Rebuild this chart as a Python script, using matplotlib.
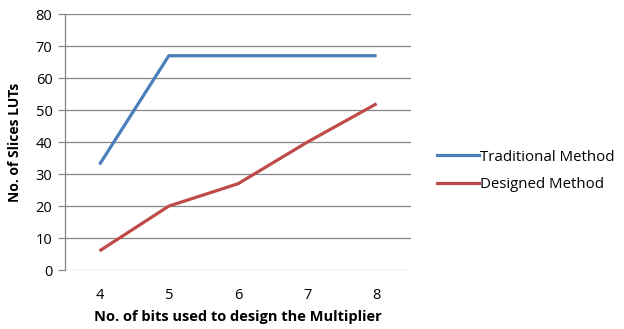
import matplotlib.pyplot as plt
from matplotlib.lines import Line2D

bits = [4, 5, 6, 7, 8]
traditional = [33, 67, 67, 67, 67]
designed = [6, 20, 27, 40, 52]
y_ticks = [0, 10, 20, 30, 40, 50, 60, 70, 80]

plt.rcParams['font.family'] = ['Open Sans', 'DejaVu Sans']

fig = plt.figure(figsize=(6.24, 3.29), dpi=100)
ax = fig.add_axes([0.104, 0.179, 0.555, 0.778])

blue = '#4a7ebb'
red = '#be4b48'
ax.plot(bits, traditional, color=blue, lw=2.3, solid_capstyle='butt')
ax.plot(bits, designed, color=red, lw=2.3, solid_capstyle='butt')

ax.set_xlim(3.5, 8.5)
ax.set_ylim(0, 80)
ax.set_yticks(y_ticks)
ax.set_xticks(bits)
ax.grid(axis='y', color='#868686', lw=0.9)
ax.set_axisbelow(True)
for s in ['top', 'right', 'bottom']:
    ax.spines[s].set_visible(False)
ax.spines['left'].set_color('#868686')
ax.spines['left'].set_linewidth(0.9)
ax.tick_params(axis='y', length=5, color='#868686', width=0.9, labelsize=10.5, pad=4)
ax.tick_params(axis='x', length=0, labelsize=10.5, pad=13)

ax.set_xlabel('No. of bits used to design the Multiplier', fontsize=10.5, fontweight='bold', labelpad=5)
ax.set_ylabel('No. of Slices LUTs', fontsize=10, fontweight='bold', labelpad=10)

handles = [Line2D([], [], color=blue, lw=2.3), Line2D([], [], color=red, lw=2.3)]
fig.legend(handles, ['Traditional Method', 'Designed Method'], loc='center left',
           bbox_to_anchor=(0.678, 0.48), frameon=False, fontsize=10.8,
           handlelength=2.8, handletextpad=0.1, labelspacing=0.85)

fig.savefig('out.png', dpi=100)
